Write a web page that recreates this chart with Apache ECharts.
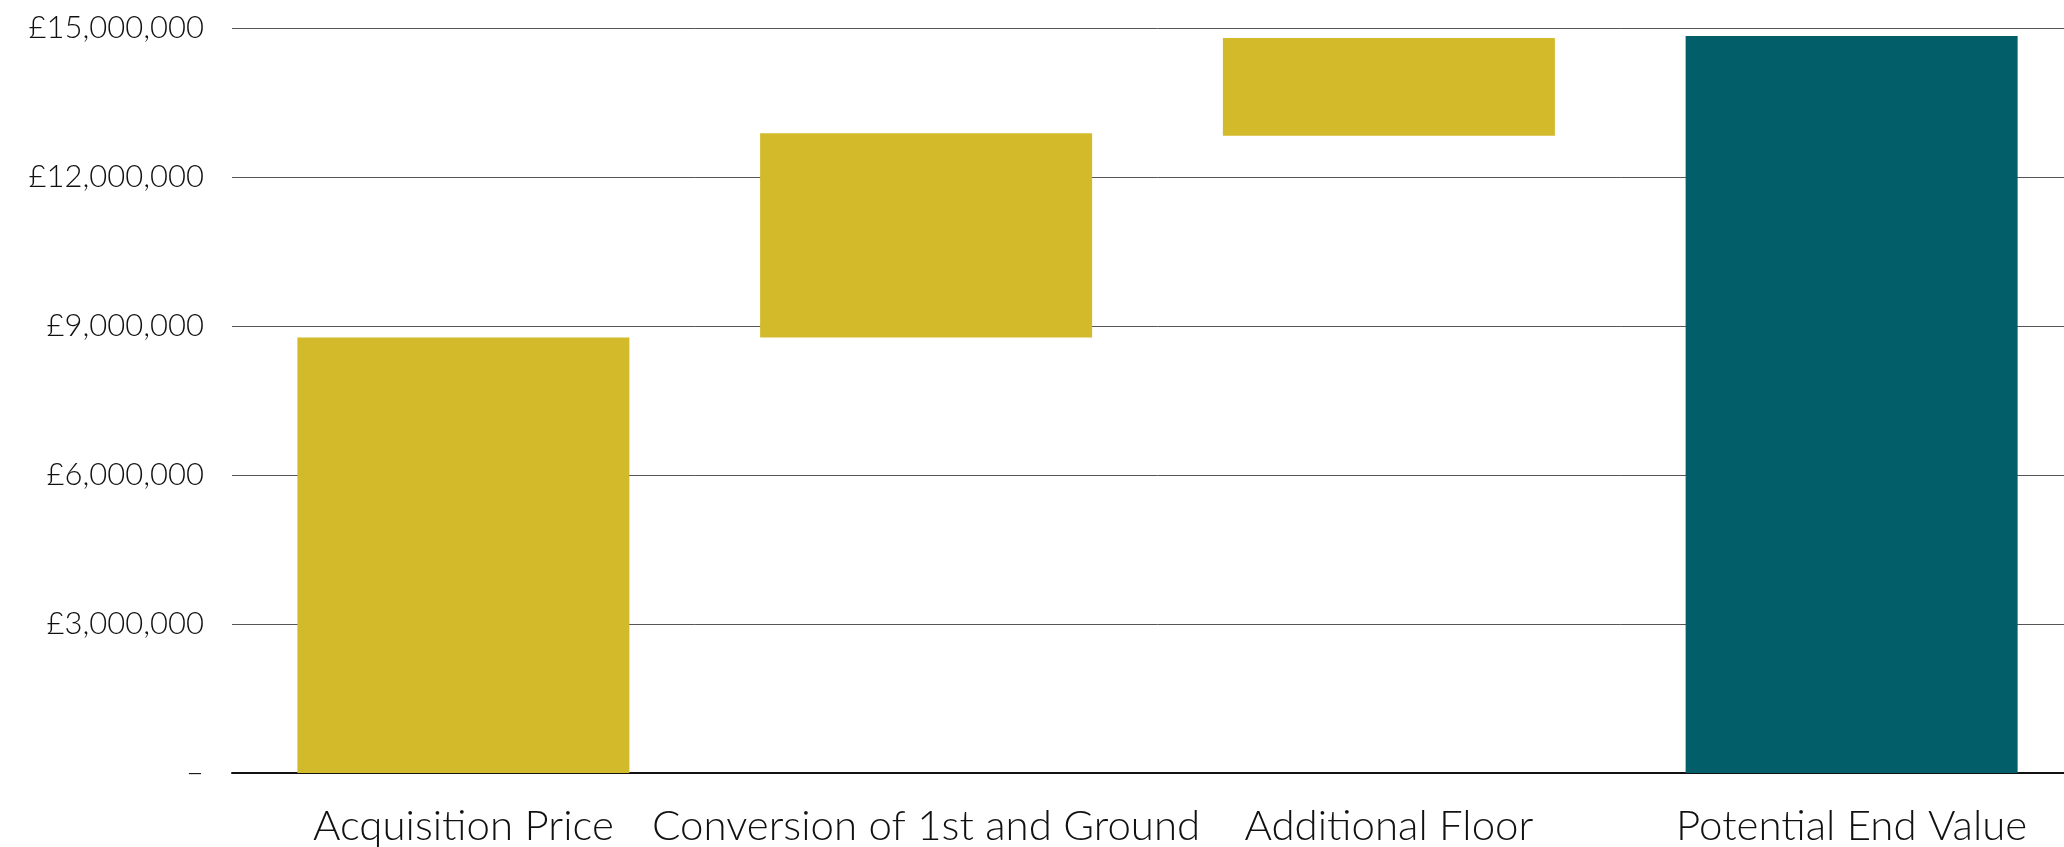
<!DOCTYPE html>
<html>
<head>
<meta charset="utf-8">
<script src="https://cdn.jsdelivr.net/npm/echarts@6/dist/echarts.min.js"></script>
<style>
html,body{margin:0;padding:0;background:#fff;overflow:hidden;}
#chart{width:2083px;height:847px;}
</style>
</head>
<body>
<div id="chart"></div>
<script>
const categories = ['Acquisition Price', 'Conversion of 1st and Ground', 'Additional Floor', 'Potential End Value'];
const baseValues = [0, 8770000, 12830000, 0];
const stepValues = [8770000, 4110000, 1970000, 14840000];
const barColors = ['#D3BA2A', '#D3BA2A', '#D3BA2A', '#025E68'];
const yTicks = [0, 3000000, 6000000, 9000000, 12000000, 15000000];

const chart = echarts.init(document.getElementById('chart'), null, {renderer: 'canvas'});
const fmt = v => v === 0 ? '–' : '£' + v.toLocaleString('en-GB');
chart.setOption({
  animation: false,
  backgroundColor: '#fff',
  grid: {left: 232, right: 0, top: 28, bottom: 74, containLabel: false},
  xAxis: {
    type: 'category',
    data: categories,
    axisLine: {show: true, lineStyle: {color: '#111', width: 2}},
    axisTick: {show: false},
    axisLabel: {color: '#111', fontFamily: 'Lato', fontWeight: 300, fontSize: 42, margin: 32, interval: 0}
  },
  yAxis: {
    type: 'value',
    min: yTicks[0],
    max: yTicks[yTicks.length - 1],
    interval: yTicks[1] - yTicks[0],
    axisLine: {show: false},
    axisTick: {show: false},
    splitLine: {show: true, lineStyle: {color: '#555', width: 1}},
    axisLabel: {color: '#111', fontFamily: 'Lato', fontWeight: 300, fontSize: 31, margin: 28, formatter: fmt}
  },
  series: [
    {
      type: 'bar', stack: 'w', data: baseValues, barWidth: 332,
      itemStyle: {color: 'transparent'}, silent: true
    },
    {
      type: 'bar', stack: 'w', barWidth: 332,
      data: stepValues.map((v, i) => ({value: v, itemStyle: {color: barColors[i]}}))
    }
  ]
});
</script>
</body>
</html>
